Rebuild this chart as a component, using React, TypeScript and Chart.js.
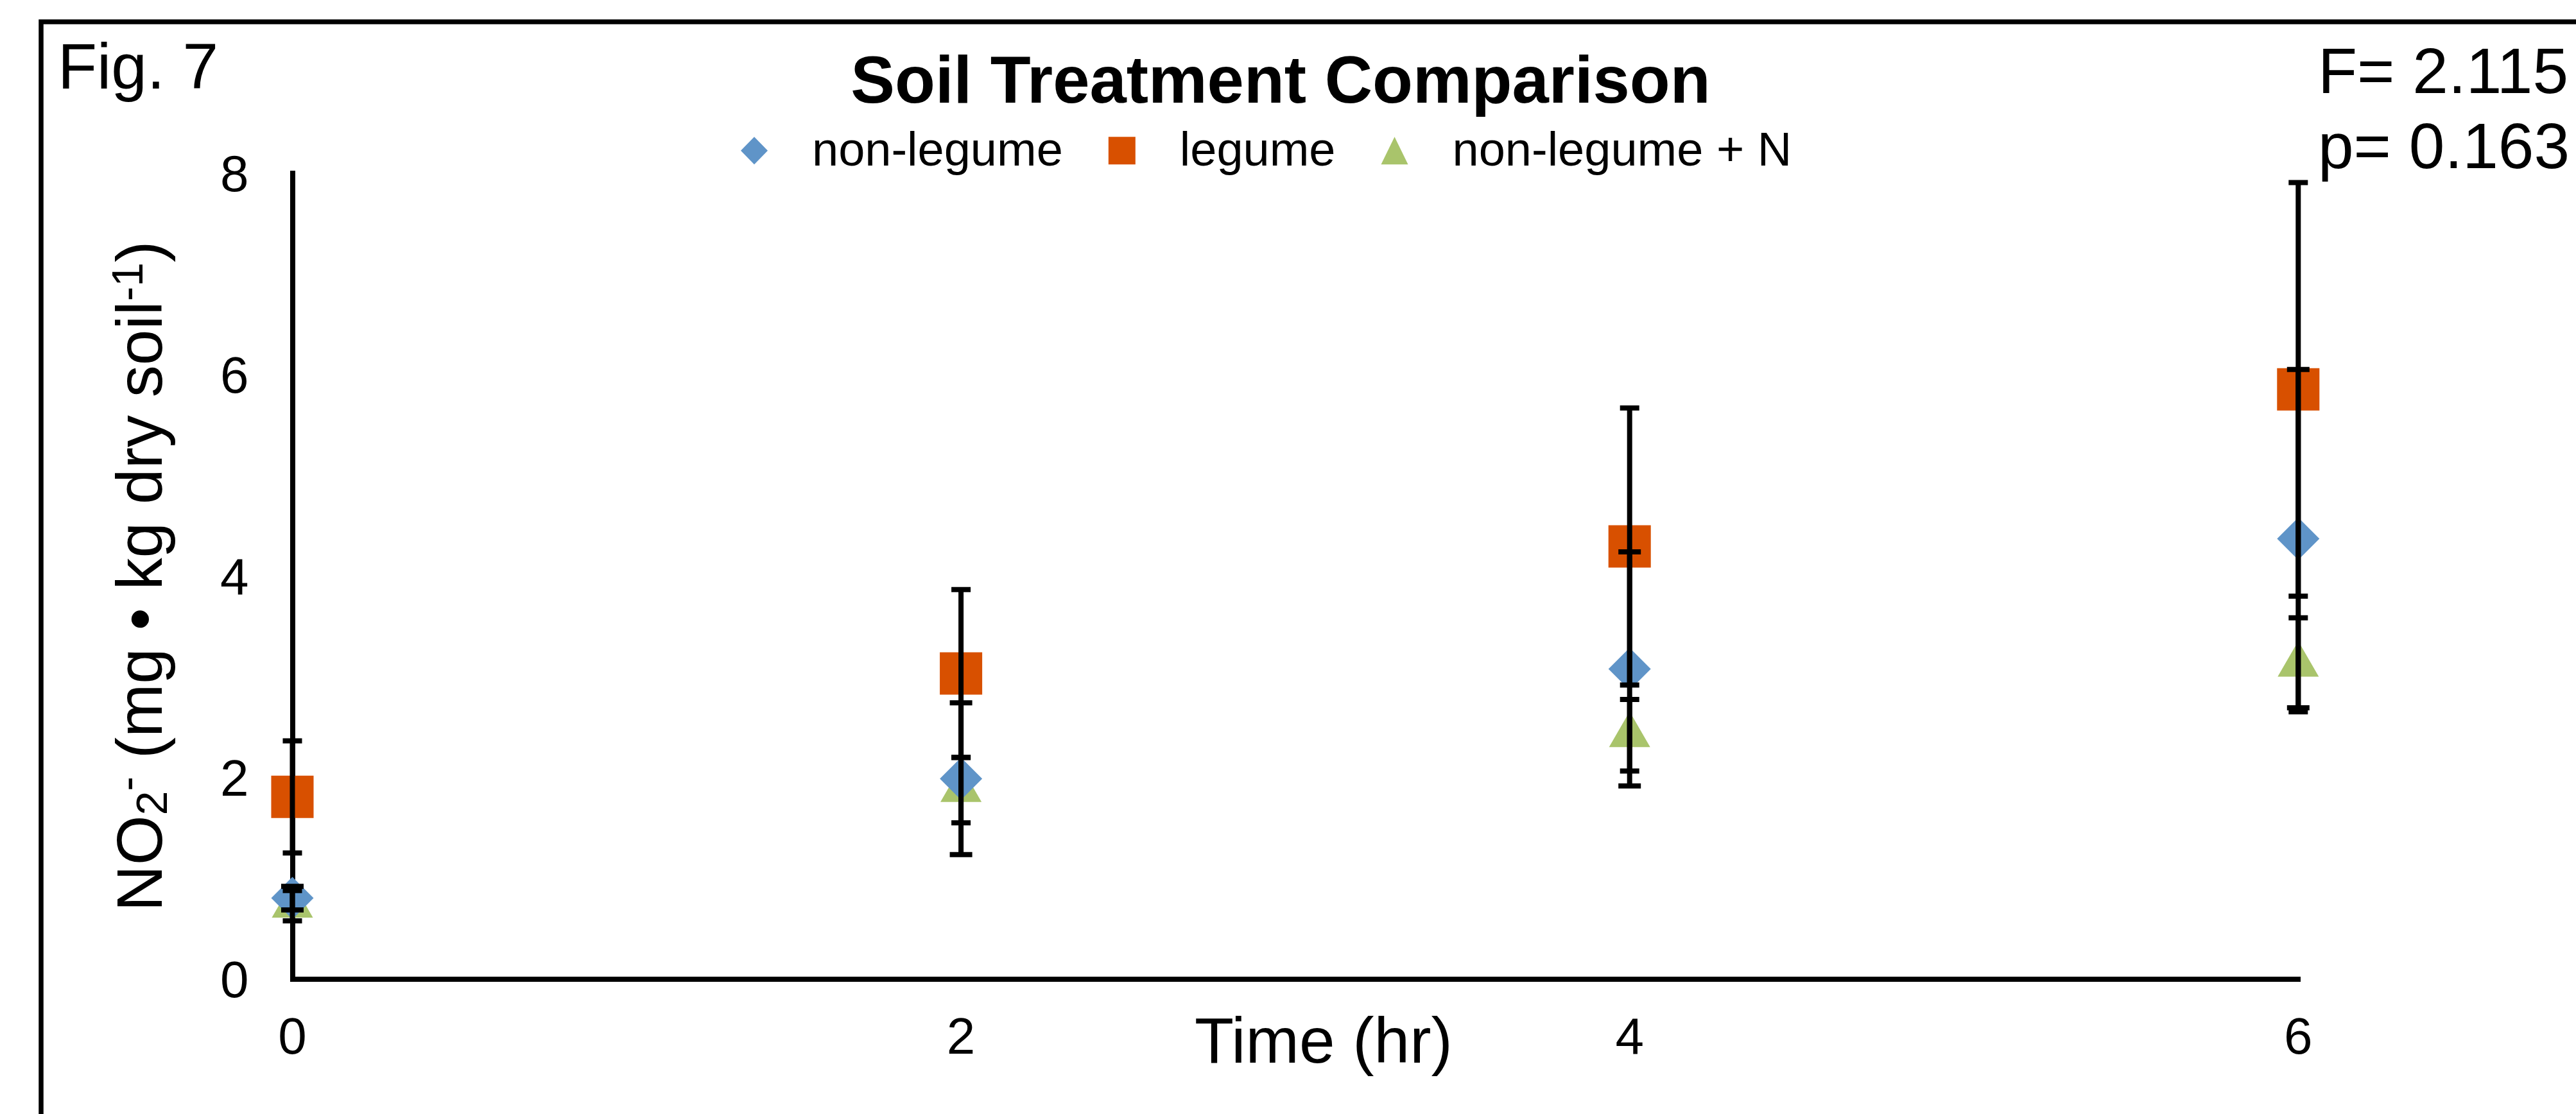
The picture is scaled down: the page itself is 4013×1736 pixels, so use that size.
import React, { useEffect, useRef } from 'react';
import { Chart, registerables } from 'chart.js';

Chart.register(...registerables);

// ---------- data ----------
const timeHours = [0, 2, 4, 6];
const seriesNames = ['non-legume', 'legume', 'non-legume + N'];
const nonLegume = [0.805, 1.99, 3.08, 4.373];
const nonLegumeErr = [0.117, 0.753, 1.162, 1.679];
const legume = [1.81, 3.035, 4.296, 5.855];
const legumeErr = [0.557, 0.833, 1.375, 2.052];
const nonLegumeN = [0.73, 1.877, 2.422, 3.121];
const nonLegumeNErr = [0.15, 0.324, 0.355, 0.467];
const xTickValues = [0, 2, 4, 6];
const yTickValues = [0, 2, 4, 6, 8];
const chartTitle = 'Soil Treatment Comparison';
const figLabel = 'Fig. 7';
const statLines = ['F= 2.115', 'p= 0.163'];
const xAxisTitle = 'Time (hr)';
const yAxisTitleParts: [string, 'n' | 'sub' | 'sup'][] = [
  ['NO', 'n'],
  ['2', 'sub'],
  ['-', 'sup'],
  [' (mg \u2022 kg dry soil', 'n'],
  ['-1', 'sup'],
  [')', 'n'],
];

// ---------- style ----------
const W = 4013;
const H = 1736;
const FONT = '"Liberation Sans", Arial, sans-serif';
const colors = ['#5F94C8', '#D85000', '#A9C46B'];
const markerStyles = ['rectRot', 'rect', 'triangle'];
const markerRadii = [33, 46.7, 37];
const capWidths = [35, 30, 30];
const errorSets = [nonLegumeErr, legumeErr, nonLegumeNErr];
const seriesValues = [nonLegume, legume, nonLegumeN];

function drawMarker(ctx: CanvasRenderingContext2D, style: string, cx: number, cy: number, w: number, h: number, color: string) {
  ctx.fillStyle = color;
  ctx.beginPath();
  if (style === 'rectRot') {
    ctx.moveTo(cx - w / 2, cy);
    ctx.lineTo(cx, cy - h / 2);
    ctx.lineTo(cx + w / 2, cy);
    ctx.lineTo(cx, cy + h / 2);
  } else if (style === 'rect') {
    ctx.rect(cx - w / 2, cy - h / 2, w, h);
  } else {
    ctx.moveTo(cx, cy - h / 2);
    ctx.lineTo(cx + w / 2, cy + h / 2);
    ctx.lineTo(cx - w / 2, cy + h / 2);
  }
  ctx.closePath();
  ctx.fill();
}

const decorPlugin = {
  id: 'decor',
  beforeDraw(chart: any) {
    const ctx = chart.ctx as CanvasRenderingContext2D;
    ctx.save();
    ctx.fillStyle = '#ffffff';
    ctx.fillRect(0, 0, W, H);
    ctx.strokeStyle = '#000';
    ctx.lineWidth = 7.5;
    ctx.strokeRect(64, 34, W + 200, H + 200);
    ctx.restore();
  },
  afterDatasetsDraw(chart: any) {
    const ctx = chart.ctx as CanvasRenderingContext2D;
    const xs = chart.scales.x;
    const ys = chart.scales.y;
    ctx.save();
    ctx.strokeStyle = '#000';
    ctx.lineWidth = 8;
    ctx.lineCap = 'butt';
    chart.data.datasets.forEach((ds: any, i: number) => {
      const errs = errorSets[i];
      ds.data.forEach((p: any, j: number) => {
        const px = xs.getPixelForValue(p.x);
        const top = ys.getPixelForValue(p.y + errs[j]);
        const bot = ys.getPixelForValue(p.y - errs[j]);
        const hw = capWidths[i] / 2;
        ctx.beginPath();
        ctx.moveTo(px, top);
        ctx.lineTo(px, bot);
        ctx.moveTo(px - hw, top);
        ctx.lineTo(px + hw, top);
        ctx.moveTo(px - hw, bot);
        ctx.lineTo(px + hw, bot);
        ctx.stroke();
      });
    });
    ctx.restore();
  },
  afterDraw(chart: any) {
    const ctx = chart.ctx as CanvasRenderingContext2D;
    const area = chart.chartArea;
    ctx.save();
    ctx.fillStyle = '#000';
    ctx.textBaseline = 'alphabetic';

    // figure label
    ctx.textAlign = 'left';
    ctx.font = `100px ${FONT}`;
    ctx.fillText(figLabel, 90, 138);

    // stats
    ctx.fillText(statLines[0], 3611, 145);
    ctx.fillText(statLines[1], 3611, 262);

    // title
    ctx.textAlign = 'center';
    ctx.font = `bold 103px ${FONT}`;
    ctx.fillText(chartTitle, 1995, 160);

    // x axis title
    ctx.textAlign = 'left';
    ctx.font = `100px ${FONT}`;
    ctx.fillText(xAxisTitle, 1861, 1656);

    // y axis title (rotated)
    ctx.save();
    ctx.translate(252, (area.top + area.bottom) / 2);
    ctx.rotate(-Math.PI / 2);
    const fontFor = (k: string) => (k === 'n' ? `100px ${FONT}` : `68px ${FONT}`);
    let total = 0;
    yAxisTitleParts.forEach(([t, k]) => {
      ctx.font = fontFor(k);
      total += ctx.measureText(t).width;
    });
    let cx = -total / 2;
    yAxisTitleParts.forEach(([t, k]) => {
      ctx.font = fontFor(k);
      const dy = k === 'sub' ? 8 : k === 'sup' ? -30 : 0;
      ctx.fillText(t, cx, dy);
      cx += ctx.measureText(t).width;
    });
    ctx.restore();

    // legend
    ctx.font = `74px ${FONT}`;
    ctx.textAlign = 'left';
    let mx = 1175;
    const my = 234.7;
    chart.data.datasets.forEach((ds: any, i: number) => {
      drawMarker(ctx, markerStyles[i], mx, my, 42, 43, colors[i]);
      ctx.fillStyle = '#000';
      const tx = mx + 90;
      ctx.fillText(ds.label, tx, 258);
      mx = tx + ctx.measureText(ds.label).width + 92;
    });
    ctx.restore();
  },
};

export default function App() {
  const canvasRef = useRef<HTMLCanvasElement | null>(null);

  useEffect(() => {
    const canvas = canvasRef.current;
    if (!canvas) return;
    const datasets = seriesNames.map((name, i) => ({
      label: name,
      data: timeHours.map((t, j) => ({ x: t, y: seriesValues[i][j] })),
      pointStyle: markerStyles[i],
      pointRadius: markerRadii[i],
      pointHoverRadius: markerRadii[i],
      pointBackgroundColor: colors[i],
      pointBorderWidth: 0,
      pointHoverBorderWidth: 0,
      backgroundColor: colors[i],
      borderColor: colors[i],
      showLine: false,
      clip: false,
    }));

    const tickFont = { family: FONT, size: 80 };
    const chart = new Chart(canvas, {
      type: 'scatter',
      data: { datasets } as any,
      options: {
        responsive: false,
        maintainAspectRatio: false,
        devicePixelRatio: 1,
        animation: false,
        events: [],
        layout: { padding: { left: 0, top: 270, right: W - 3580.3, bottom: 0 } },
        plugins: {
          legend: { display: false },
          title: { display: false },
          tooltip: { enabled: false },
        },
        scales: {
          x: {
            type: 'linear',
            min: 0,
            max: 6,
            afterBuildTicks: (s: any) => {
              s.ticks = xTickValues.map((v) => ({ value: v }));
            },
            afterFit: (s: any) => {
              s.height = 210;
            },
            ticks: { font: tickFont, color: '#000', padding: 46, maxRotation: 0, autoSkip: false },
            grid: { display: false, drawTicks: false, lineWidth: 8 },
            border: { display: true, color: '#000', width: 8 },
          },
          y: {
            type: 'linear',
            min: 0,
            max: 8,
            afterBuildTicks: (s: any) => {
              s.ticks = yTickValues.map((v) => ({ value: v }));
            },
            afterFit: (s: any) => {
              s.width = 455.5;
            },
            ticks: { font: tickFont, color: '#000', padding: 68, labelOffset: 6, autoSkip: false },
            grid: { display: false, drawTicks: false, lineWidth: 8 },
            border: { display: true, color: '#000', width: 8 },
          },
        },
      } as any,
      plugins: [decorPlugin],
    });
    return () => chart.destroy();
  }, []);

  return (
    <div style={{ position: 'fixed', left: 0, top: 0, width: W, height: H, background: '#fff' }}>
      <canvas ref={canvasRef} width={W} height={H} style={{ display: 'block', width: W, height: H }} />
    </div>
  );
}
